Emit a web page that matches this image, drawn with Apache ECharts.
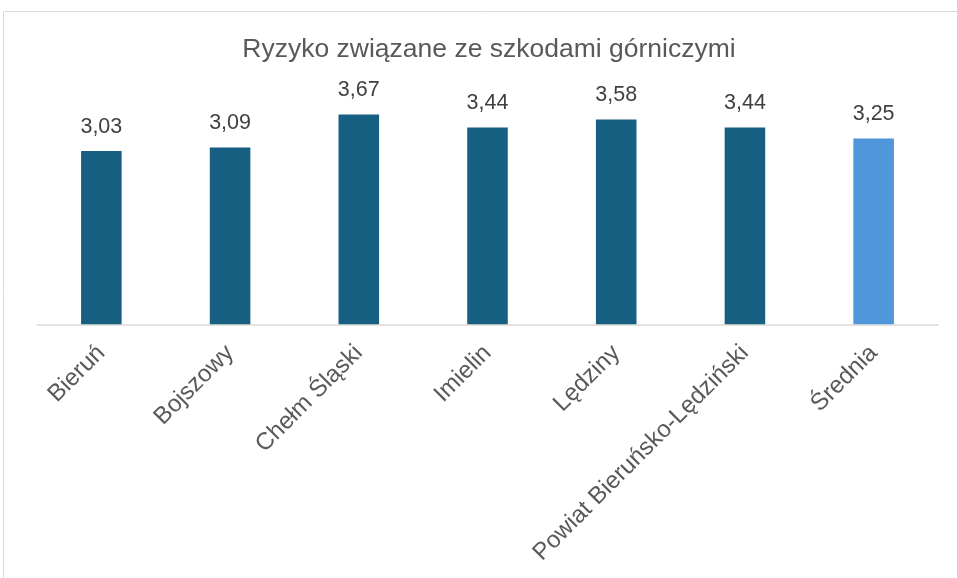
<!DOCTYPE html>
<html>
<head>
<meta charset="utf-8">
<script src="https://cdn.jsdelivr.net/npm/echarts@6/dist/echarts.min.js"></script>
<style>
  html, body { margin: 0; padding: 0; background: #fff; }
  #chart { width: 957px; height: 578px; }
</style>
</head>
<body>
<div id="chart"></div>
<script>
// Categories and values for the chart
const categories = ['Bieruń', 'Bojszowy', 'Chełm Śląski', 'Imielin', 'Lędziny', 'Powiat Bieruńsko-Lędziński', 'Średnia'];
const values = [3.03, 3.09, 3.67, 3.44, 3.58, 3.44, 3.25];
const highlightCategory = 'Średnia';

const darkBlue = '#175f81';
const lightBlue = '#4f96da';
const font = '"Liberation Sans", Arial, sans-serif';

const chart = echarts.init(document.getElementById('chart'), null, { renderer: 'canvas' });

chart.setOption({
  backgroundColor: '#ffffff',
  animation: false,
  title: {
    text: 'Ryzyko związane ze szkodami górniczymi',
    left: 484,
    textAlign: 'center',
    top: 31,
    textStyle: { fontFamily: font, fontSize: 26.5, fontWeight: 'normal', color: '#595959' }
  },
  graphic: [{
    type: 'rect',
    shape: { x: 3.5, y: 11.5, width: 980, height: 600 },
    style: { fill: 'none', stroke: '#d9d9d9', lineWidth: 1 },
    silent: true
  }],
  grid: { left: 37, right: 19, top: 95.5, bottom: 253.7 },
  xAxis: {
    type: 'category',
    data: categories,
    axisLine: { lineStyle: { color: '#d9d9d9', width: 1.5 } },
    axisTick: { show: false },
    axisLabel: {
      interval: 0,
      rotate: 45,
      margin: 25,
      fontFamily: font,
      fontSize: 24,
      color: '#595959'
    }
  },
  yAxis: {
    type: 'value',
    min: 0,
    max: 4,
    show: false,
    splitLine: { show: false }
  },
  series: [{
    type: 'bar',
    barWidth: '31.5%',
    data: categories.map((c, i) => ({
      value: values[i],
      itemStyle: { color: c === highlightCategory ? lightBlue : darkBlue }
    })),
    label: {
      show: true,
      position: 'top',
      distance: 13,
      fontFamily: font,
      fontSize: 21.5,
      color: '#404040',
      formatter: p => p.value.toFixed(2).replace('.', ',')
    }
  }]
});
</script>
</body>
</html>
